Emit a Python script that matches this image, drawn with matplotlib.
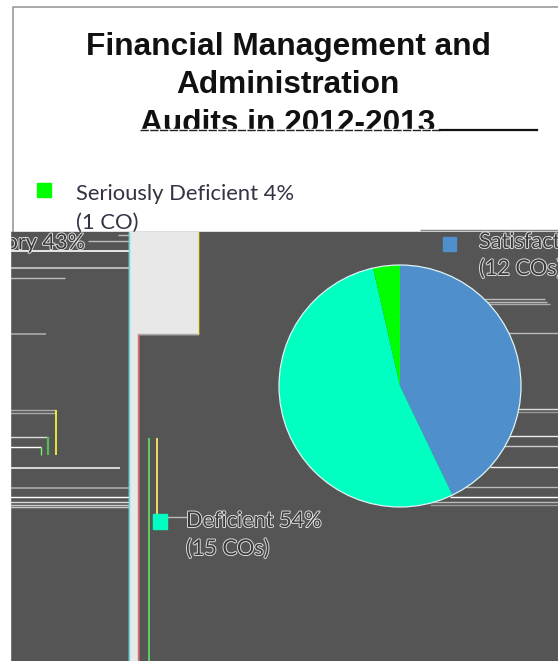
"""Pie of audit ratings, with the broken screen-capture look of the source image."""

import matplotlib

matplotlib.use("Agg")
import matplotlib.patheffects as pe
import matplotlib.pyplot as plt
from matplotlib.patches import Circle, Rectangle

W, H = 558, 661

title_lines = ["Financial Management and", "Administration", "Audits in 2012-2013"]
ratings = ["Satisfactory", "Deficient", "Seriously Deficient"]
shares = [43, 54, 4]
office_counts = [12, 15, 1]
offices = ["(12 COs)", "(15 COs)", "(1 CO)"]
colors = ["#4F8FCC", "#00FFC0", "#00FF00"]

DARK = "#555555"
STRIP = "#E8E8E8"
FONT = "Lato"

# stray scan lines in the dark area: y, x start, x end, colour, width
left_lines = [
    (235, 118, 129, "#BBBBBB", 1.0), (241, 88, 129, "#BBBBBB", 1.0),
    (251, 10, 129, "white", 1.2), (268, 10, 129, "#CCCCCC", 1.2),
    (278, 10, 65, "#BBBBBB", 1.0), (334, 10, 46, "#AAAAAA", 1.2),
    (410, 10, 56, "#AAAAAA", 1.0), (413, 10, 56, "#AAAAAA", 1.0),
    (437, 10, 48, "#DDDDDD", 1.0), (447, 10, 41, "white", 1.0),
    (468, 10, 120, "#EEEEEE", 1.2), (488, 10, 129, "#AAAAAA", 1.2),
    (497, 10, 129, "white", 1.0), (502, 10, 129, "#DDDDDD", 1.0),
    (505, 10, 129, "#CCCCCC", 1.0), (507, 10, 129, "#CCCCCC", 1.0),
]
right_lines = [
    (230, 420, 558, "#888888", 1.0),
    (299, 485, 545, "#BBBBBB", 1.0), (302, 485, 547, "#BBBBBB", 1.0),
    (304, 485, 550, "#AAAAAA", 1.0), (333, 505, 558, "#BBBBBB", 1.0),
    (409, 515, 558, "#DDDDDD", 1.0), (412, 515, 558, "#999999", 1.0),
    (436, 505, 558, "#EEEEEE", 1.0), (446, 500, 558, "#CCCCCC", 1.0),
    (467, 490, 558, "#EEEEEE", 1.0), (487, 465, 558, "#BBBBBB", 1.0),
    (497, 450, 558, "white", 1.0), (502, 430, 558, "#BBBBBB", 1.0),
    (505, 430, 558, "#999999", 1.0),
]
# x, y start, y end, colour, width
stems = [
    (56, 410, 455, "#FFFF33", 1.2), (48, 437, 455, "#55BB55", 1.6),
    (41, 447, 455, "#77EE66", 1.0), (149, 438, 661, "#66EE66", 1.1),
    (157, 438, 515, "#EEDD66", 1.4), (129, 232, 661, "#66DDDD", 1.0),
    (138, 334, 661, "#EE6666", 1.0), (198, 232, 334, "#EEEE55", 0.9),
]


def outlined(ax, x, y, text, **kwargs):
    """Dark letters with the pale halo seen in the lower half of the image."""
    t = ax.text(x, y, text, color="#3A3A3A", family=FONT, va="center", fontsize=15.6, **kwargs)
    t.set_path_effects([pe.withStroke(linewidth=1.3, foreground="#E4E4E4")])
    return t


def main():
    fig = plt.figure(figsize=(W / 100, H / 100), dpi=100)
    ax = fig.add_axes([0, 0, 1, 1])
    ax.set_xlim(0, W)
    ax.set_ylim(H, 0)
    ax.axis("off")

    # top, still intact part
    ax.plot([13, 13, W], [232, 7, 7], color="#999999", lw=1.2, zorder=1)
    for y, line in zip([47, 85, 124], title_lines):
        ax.text(288, y, line, ha="center", va="center", family="Liberation Sans",
                fontweight="bold", fontsize=22.8, color="#111111", zorder=2)
    ax.add_patch(Rectangle((130, 128.5), 320, 12, color="white", zorder=3))
    ax.plot([140, 440], [129.5, 129.5], color="#222222", lw=1.0, ls=(0, (6, 1)), zorder=4)
    ax.plot([440, 537], [130, 130], color="#111111", lw=1.6, zorder=4)
    ax.add_patch(Rectangle((37, 183), 14, 14, color=colors[2], zorder=3))
    ax.text(76, 194.5, f"{ratings[2]} {shares[2]}%", family=FONT, fontsize=15.8, color="#333344",
            va="center", zorder=3)
    ax.text(76, 222.5, offices[2], family=FONT, fontsize=15.8, color="#333344", va="center", zorder=3)

    # lower, corrupted part
    ax.add_patch(Rectangle((10, 232), W - 10, H - 232, color=DARK, zorder=5))
    ax.add_patch(Rectangle((129, 232), 69, 102, color=STRIP, zorder=6))
    ax.add_patch(Rectangle((129, 334), 9, H - 334, color=STRIP, zorder=6))
    ax.plot([138, 198], [334, 334], color="#AAAAAA", lw=1.0, zorder=6)
    for y, x0, x1, c, lw in left_lines + right_lines:
        ax.plot([x0, x1], [y, y], color=c, lw=lw, zorder=6, solid_capstyle="butt")
    for x, y0, y1, c, lw in stems:
        ax.plot([x, x], [y0, y1], color=c, lw=lw, zorder=7, solid_capstyle="butt")

    ax.add_patch(Rectangle((443, 237), 13, 14, color=colors[0], zorder=7))
    ax.add_patch(Rectangle((153, 514), 14, 15, color=colors[1], zorder=8))
    ax.plot([167, 186], [517, 517], color="#BBBBBB", lw=1.0, zorder=7)

    outlined(ax, 85, 243, f"{ratings[0]} {shares[0]}%", ha="right", zorder=7)
    outlined(ax, 479, 242, f"{ratings[0]} {shares[0]}%", zorder=7)
    outlined(ax, 479, 269, offices[0], zorder=7)
    outlined(ax, 186, 521, f"{ratings[1]} {shares[1]}%", zorder=7)
    outlined(ax, 186, 549, offices[1], zorder=7)
    ax.add_patch(Rectangle((0, 232), 10, H - 232, color="white", zorder=9))

    # pie, in its own axes over the canvas
    cx, cy, r = 400, 386, 121
    pie_ax = fig.add_axes([(cx - r) / W, 1 - (cy + r) / H, 2 * r / W, 2 * r / H], zorder=10)
    pie_ax.pie(office_counts, colors=colors, startangle=90, counterclock=False, radius=1.0,
               wedgeprops={"linewidth": 0})
    pie_ax.set_xlim(-1, 1)
    pie_ax.set_ylim(-1, 1)
    pie_ax.add_patch(Circle((0, 0), 1.0, fill=False, edgecolor="#DDF4F4", lw=0.9, clip_on=False))

    fig.savefig("out.png", dpi=100)


if __name__ == "__main__":
    main()
